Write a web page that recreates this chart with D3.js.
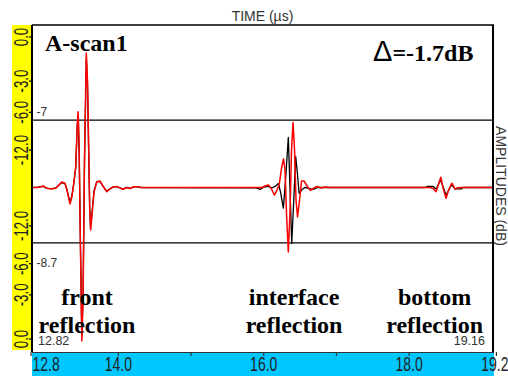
<!DOCTYPE html>
<html>
<head>
<meta charset="utf-8">
<script src="https://cdn.jsdelivr.net/npm/d3@7"></script>
<style>
  html, body { margin: 0; padding: 0; background: #fff; overflow: hidden; }
  svg { display: block; }
</style>
</head>
<body>
<svg id="chart" width="508" height="376"></svg>
<script>
// ---- Time base (µs) ----
const timeRange = [12.82, 19.16];
const timeTicks = [12.8, 14.0, 15.0, 16.0, 17.0, 18.0, 19.2];
const timeTickLabels = ["12.8", "14.0", "", "16.0", "", "18.0", "19.2"];

// ---- Amplitude side bar, gain in dB (upper and lower half) ----
const dbTicksUpper = [0, -3, -6, -12];
const dbTicksLower = [-12, -6, -3, 0];
const dbTickLabels = ["0.0", "-3.0", "-6.0", "-12.0"];

// ---- Gate thresholds (dB) ----
const gateUpperDb = -7;
const gateLowerDb = -8.7;
const gateUpperLabel = "-7";
const gateLowerLabel = "-8.7";

// ---- Reference A-scan (black): time µs, amplitude % of full screen ----
const refTime = [
  12.820, 12.903, 12.975, 13.022, 13.091, 13.150, 13.229, 13.274, 13.301, 13.343,
  13.370, 13.388, 13.421, 13.442, 13.455, 13.469, 13.487, 13.505, 13.522, 13.542,
  13.567, 13.583, 13.600, 13.614, 13.626, 13.645, 13.673, 13.710, 13.755, 13.797,
  13.848, 13.893, 13.934, 13.985, 14.030, 14.072, 14.120, 14.168, 14.223, 14.278,
  14.319,
  15.901, 15.956, 16.011, 16.066, 16.121, 16.163, 16.208, 16.238, 16.277, 16.307,
  16.345, 16.369, 16.392, 16.420, 16.447, 16.472, 16.493, 16.527, 16.575, 16.630,
  16.689, 16.754, 16.823,
  18.226, 18.260, 18.336, 18.377, 18.439, 18.515, 18.590, 18.638, 18.728, 18.748,
  19.160
];
const refAmp = [
  0, 0.2, 0.8, -0.6, -0.8, -0.2, 3.3, 2.5, -1.5, -10.2,
  -5.0, 0.5, 12.8, 40.0, 48.5, 22.0, -40.0, -98.0, -72.0, 17.0,
  86.0, 69.0, 22.0, -15.5, -27.0, -17.0, -2.5, 3.9, 4.0, 0.8,
  -2.5, -0.8, 0.4, 0.5, -0.2, -1.0, 0.1, -0.5, 0.4, 0.4,
  0,
  -0.3, -1.2, 0.3, 0.7, -0.3, 0.7, 2.6, -3.0, -13.6, 5.0,
  33.2, -1.7, -37.1, -8.3, 20.4, 8.3, -3.8, -1.7, 0.1, -0.7,
  -1.2, 0, 0,
  0, 0.7, 0.7, -1.0, 5.0, -5.0, 1.7, -0.9, -0.9, 0,
  0
];

// ---- Current A-scan (red) ----
const scanTime = [
  12.820, 12.903, 12.975, 13.022, 13.091, 13.150, 13.229, 13.274, 13.301, 13.343,
  13.370, 13.388, 13.421, 13.442, 13.455, 13.469, 13.487, 13.505, 13.522, 13.542,
  13.567, 13.583, 13.600, 13.614, 13.626, 13.645, 13.673, 13.710, 13.755, 13.797,
  13.848, 13.893, 13.934, 13.985, 14.030, 14.072, 14.120, 14.168, 14.223, 14.278,
  14.319,
  15.887, 15.984, 16.025, 16.070, 16.107, 16.153, 16.190, 16.222, 16.252, 16.279,
  16.300, 16.321, 16.345, 16.369, 16.389, 16.410, 16.431, 16.451, 16.472, 16.500,
  16.527, 16.561, 16.603, 16.651, 16.699, 16.740, 16.795, 16.850, 16.905,
  18.157, 18.295, 18.336, 18.377, 18.411, 18.442, 18.473, 18.515, 18.549, 18.593,
  18.618, 18.638, 18.666, 18.707,
  19.160
];
const scanAmp = [
  0, 0, 1.0, -0.5, -1.0, -0.3, 3.6, 2.8, -1.7, -10.9,
  -5.6, 0.3, 13.6, 41.4, 50.2, 24.8, -41.4, -101.7, -74.5, 18.2,
  89.1, 71.2, 24.8, -14.9, -28.1, -18.2, -3.0, 3.6, 4.3, 1.0,
  -2.8, -1.0, 0.3, 0.7, -0.3, -1.3, 0, -0.7, 0.5, 0.5,
  0,
  0, 0, 1.0, 1.7, -0.3, -5.0, -1.7, 2.6, 12.9, 18.9,
  11.6, -18.2, -42.7, -14.9, 24.8, 43.0, 24.8, -8.3, -19.5, -8.3,
  4.3, 4.3, 1.0, -2.0, -0.3, 0.7, -0.3, 0.3, 0,
  0, 0, -0.7, -2.8, 2.3, 6.8, -0.3, -7.2, -1.7, 2.8,
  1.0, -1.2, -0.3, 0,
  0
];

// ---- Annotations ----
const echoNames = [["front", "reflection"], ["interface", "reflection"], ["bottom", "reflection"]];
const echoTimes = [13.577, 16.424, 18.357];
const scanName = "A-scan1";
const gainDelta = "=-1.7dB";
const startLabel = "12.82";
const endLabel = "19.16";

// ---------------------------------------------------------------
const W = 508, H = 376;
const box = { left: 32, right: 493, top: 25, bottom: 352 };
const svg = d3.select("#chart");
const SANS = "'Liberation Sans', Arial, sans-serif";
const SERIF = "'Liberation Serif', 'Times New Roman', serif";

const x = d3.scaleLinear().domain(timeRange).range([box.left, box.right]);
const y = d3.scaleLinear().domain([-100, 100]).range([338.5, 36.5]);
const dbToAmp = db => 100 * Math.pow(10, db / 20);

// background
svg.append("rect").attr("width", W).attr("height", H).attr("fill", "#fff");

// side bars
svg.append("rect").attr("x", 12).attr("y", box.top).attr("width", box.left - 12)
  .attr("height", 350 - box.top).attr("fill", "#ffff00");
svg.append("rect").attr("x", box.left).attr("y", box.bottom).attr("width", box.right - box.left + 1)
  .attr("height", H - box.bottom).attr("fill", "#00c8ff");

// title
svg.append("text").attr("x", (box.left + box.right) / 2).attr("y", 20.5)
  .attr("text-anchor", "middle").attr("font-family", SANS).attr("font-size", 14)
  .attr("fill", "#333").text("TIME (µs)");

// right axis title
svg.append("text").attr("transform", `translate(496,186) rotate(90)`)
  .attr("text-anchor", "middle").attr("font-family", SANS).attr("font-size", 14)
  .attr("fill", "#333").text("AMPLITUDES (dB)");

// gate lines
[[gateUpperDb, 1, gateUpperLabel, -4], [gateLowerDb, -1, gateLowerLabel, 24]].forEach(([db, sign, lab, off]) => {
  const gy = y(sign * dbToAmp(db));
  svg.append("line").attr("x1", box.left).attr("x2", box.right).attr("y1", gy).attr("y2", gy)
    .attr("stroke", "#000").attr("stroke-width", 1.3);
  svg.append("text").attr("x", 36.5).attr("y", gy + off).attr("font-family", SANS)
    .attr("font-size", 12).attr("fill", "#333").text(lab);
});

// traces: reference underneath, current scan on top
const line = d3.line().x(d => x(d[0])).y(d => y(d[1]));
const refPts = refTime.map((t, i) => [t, refAmp[i]]);
const scanPts = scanTime.map((t, i) => [t, scanAmp[i]]);
svg.append("path").attr("d", line(refPts)).attr("fill", "none")
  .attr("stroke", "#000").attr("stroke-width", 1.3).attr("stroke-linejoin", "round");
svg.append("path").attr("d", line(scanPts)).attr("fill", "none")
  .attr("stroke", "#ff0000").attr("stroke-width", 1.5).attr("stroke-linejoin", "round");

// frame
svg.append("line").attr("x1", box.left).attr("x2", box.right + 1).attr("y1", box.top).attr("y2", box.top)
  .attr("stroke", "#000").attr("stroke-width", 1.3);
svg.append("line").attr("x1", box.left).attr("x2", box.left).attr("y1", box.top).attr("y2", box.bottom)
  .attr("stroke", "#000").attr("stroke-width", 2);
svg.append("line").attr("x1", box.right).attr("x2", box.right).attr("y1", box.top).attr("y2", box.bottom)
  .attr("stroke", "#000").attr("stroke-width", 2);

// amplitude (dB) axis on the yellow bar
const ampTicks = dbTicksUpper.map(dbToAmp).concat(dbTicksLower.map(db => -dbToAmp(db)));
const ampLabels = dbTickLabels.concat(dbTickLabels.slice().reverse());
const yAxis = d3.axisLeft(y).tickValues(ampTicks).tickSize(3)
  .tickFormat((d, i) => ampLabels[i]);
const gy = svg.append("g").attr("transform", `translate(${box.left},0)`).call(yAxis);
gy.select(".domain").remove();
gy.selectAll(".tick line").attr("stroke", "#000").attr("stroke-width", 1.2);
gy.selectAll(".tick text")
  .attr("x", null).attr("dy", null).attr("text-anchor", "middle")
  .attr("transform", "translate(-4.5,0) rotate(-90) scale(0.68,1)")
  .attr("font-family", SANS).attr("font-size", 19.5).attr("fill", "#222");

// time axis on the blue bar
const xAxis = d3.axisBottom(x).tickValues(timeTicks).tickSize(4).tickSizeOuter(0)
  .tickFormat((d, i) => timeTickLabels[i]);
const gx = svg.append("g").attr("transform", `translate(0,${box.bottom})`).call(xAxis);
gx.select(".domain").attr("stroke", "#333").attr("stroke-width", 1.2)
  .attr("d", `M${box.left},0.5H${box.right + 1}`);
gx.selectAll(".tick line").attr("stroke", "#333").attr("stroke-width", 1.2);
const sx = 0.7;
gx.selectAll(".tick text")
  .attr("y", null).attr("dy", null)
  .attr("font-family", SANS).attr("font-size", 20).attr("fill", "#222")
  .each(function (d) {
    const tx = x(d);
    const hw = this.getComputedTextLength() * sx / 2;
    const cx = Math.max(box.left + hw, Math.min(W - hw, tx));
    d3.select(this).attr("text-anchor", "middle")
      .attr("transform", `translate(${cx - tx},19) scale(${sx},1)`);
  });

// start / end time labels
svg.append("text").attr("x", 38).attr("y", 345).attr("font-family", SANS).attr("font-size", 12.5)
  .attr("fill", "#333").text(startLabel);
svg.append("text").attr("x", 485).attr("y", 345).attr("text-anchor", "end").attr("font-family", SANS)
  .attr("font-size", 12.5).attr("fill", "#333").text(endLabel);

// scan name and gain change
svg.append("text").attr("x", 45).attr("y", 51).attr("font-family", SERIF).attr("font-weight", "bold")
  .attr("font-size", 24).attr("fill", "#000").text(scanName);
const dt = svg.append("text").attr("x", 373).attr("y", 61).attr("fill", "#000");
dt.append("tspan").attr("font-family", SANS).attr("font-size", 29).text("Δ");
dt.append("tspan").attr("font-family", SERIF).attr("font-weight", "bold").attr("font-size", 24).text(gainDelta);

// echo annotations
echoNames.forEach((lines, i) => {
  const t = svg.append("text").attr("text-anchor", "middle").attr("font-family", SERIF)
    .attr("font-weight", "bold").attr("font-size", 24).attr("fill", "#000");
  lines.forEach((s, j) => {
    t.append("tspan").attr("x", x(echoTimes[i])).attr("y", 305 + j * 27.5).text(s);
  });
});
</script>
</body>
</html>
